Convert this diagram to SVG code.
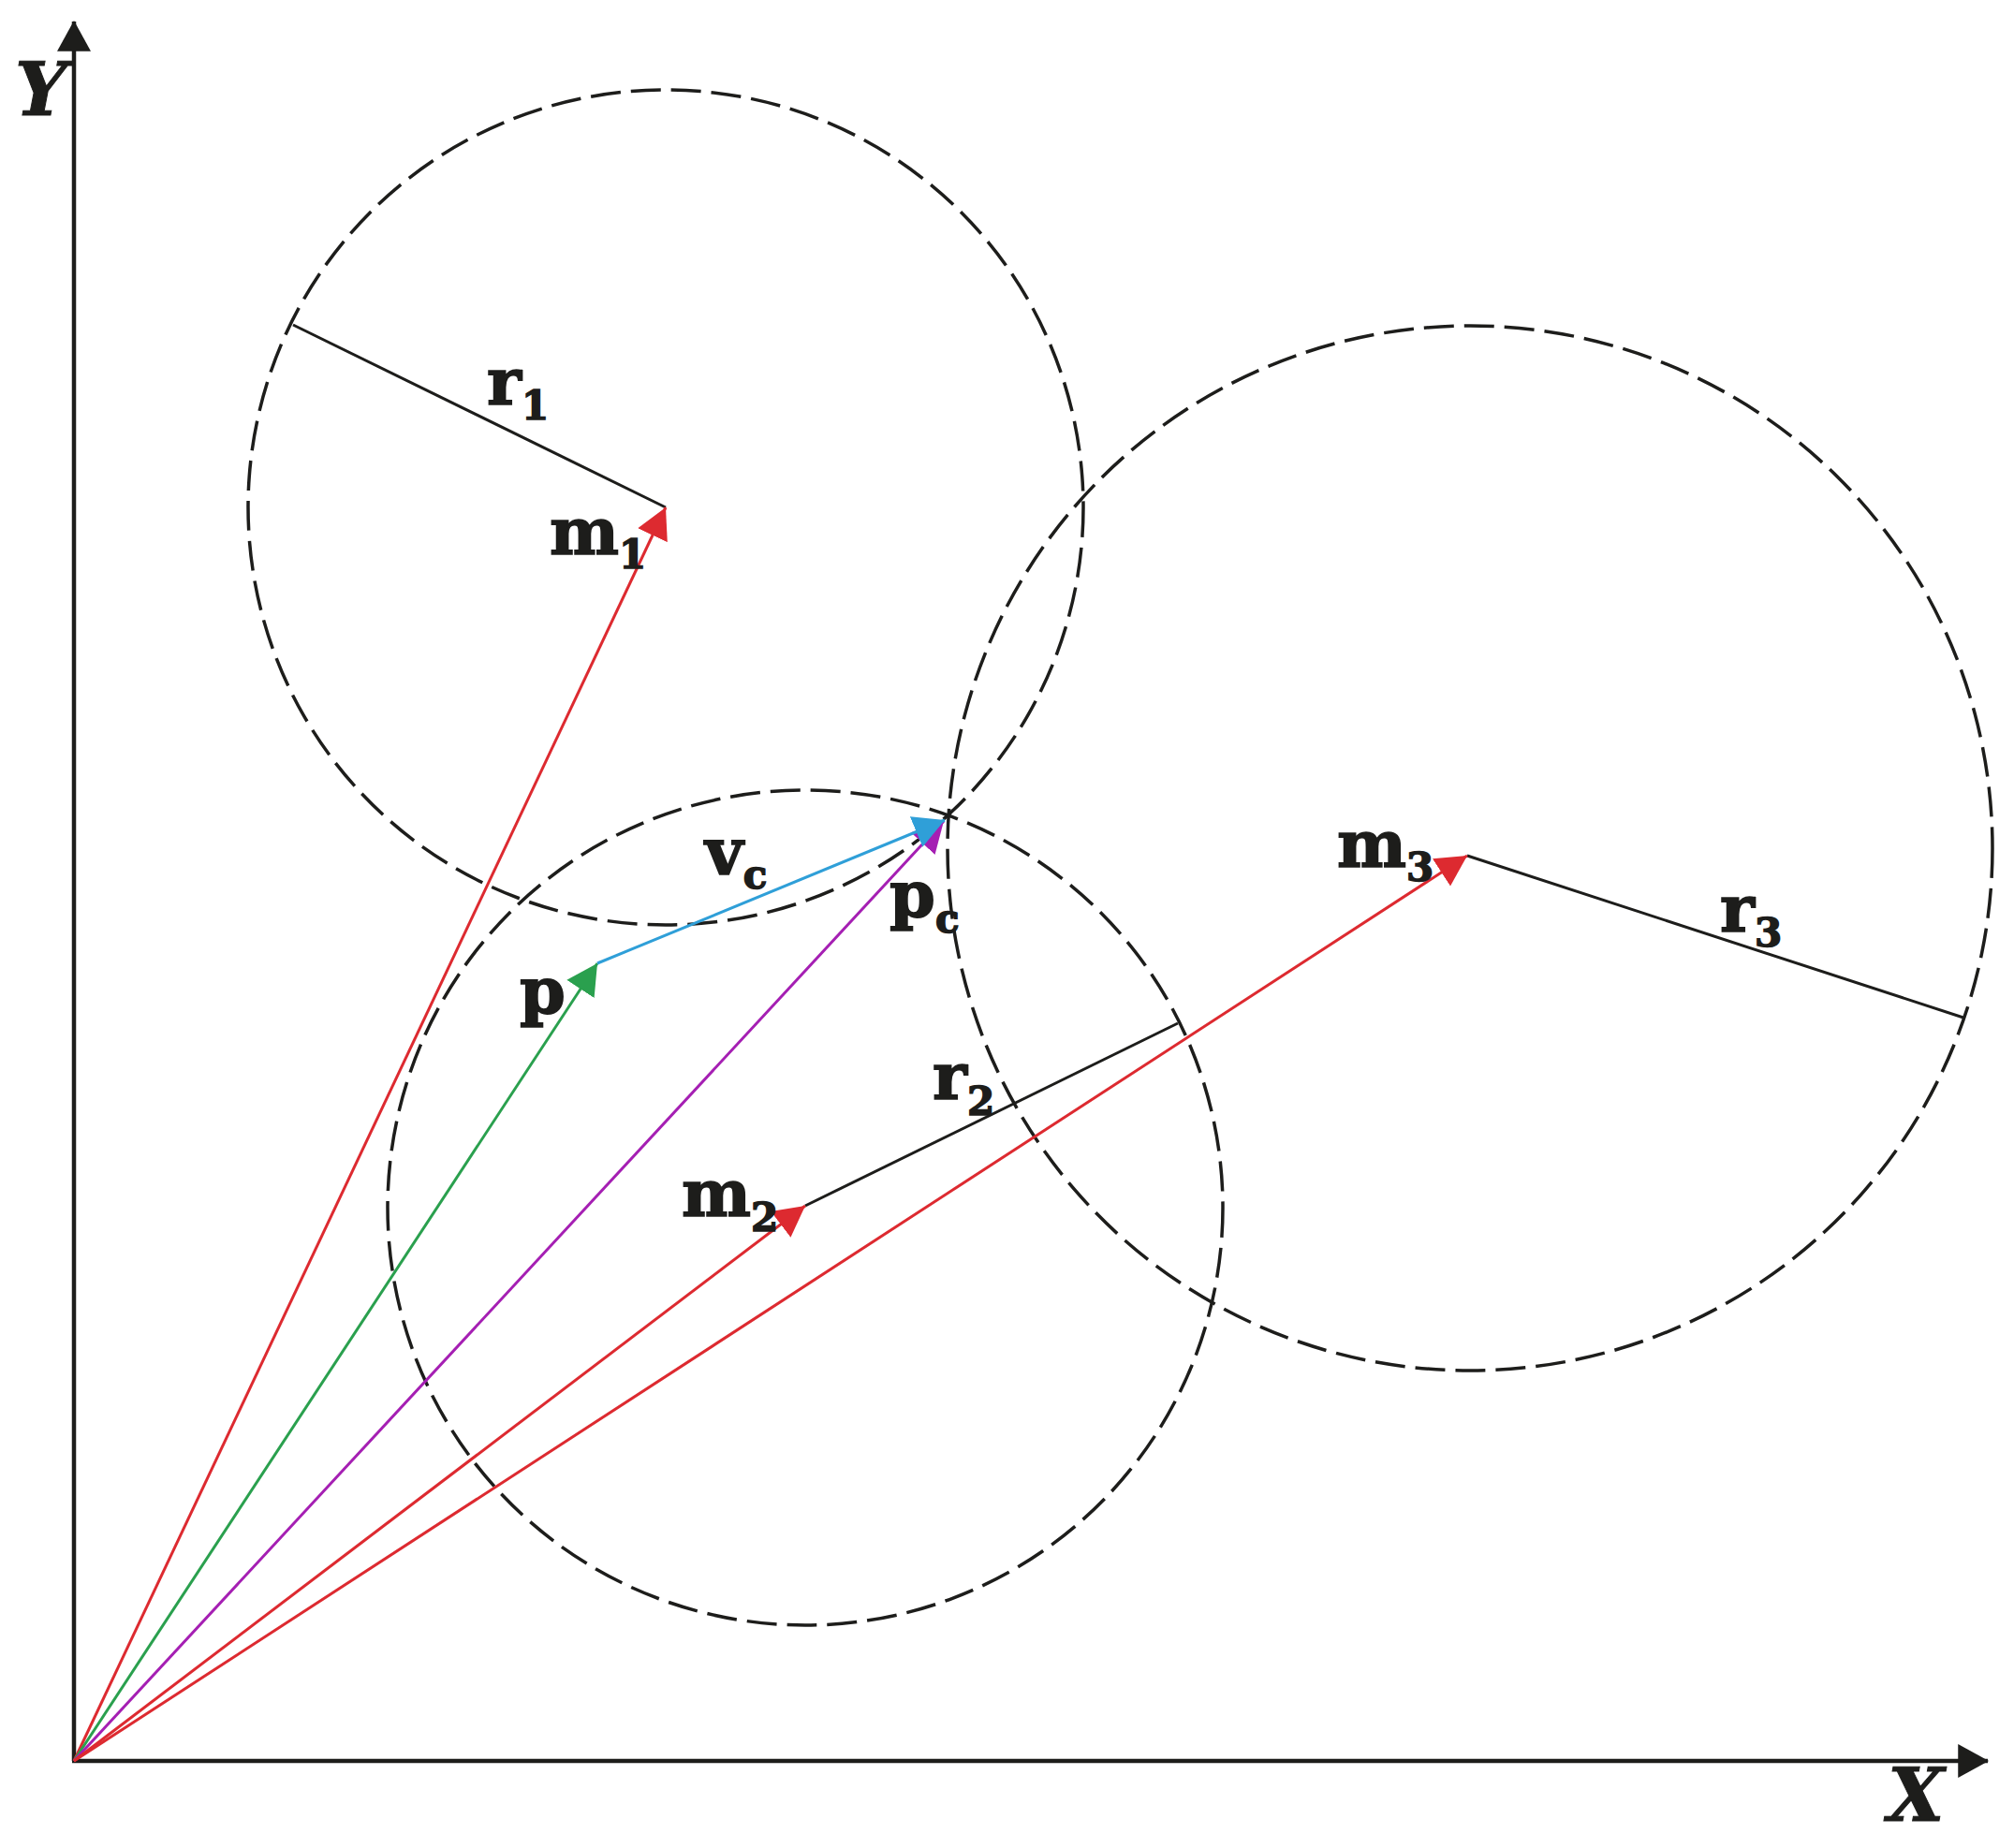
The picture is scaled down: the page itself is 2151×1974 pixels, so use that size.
<svg xmlns="http://www.w3.org/2000/svg" width="2151" height="1974" viewBox="0 0 2151 1974">
<style>
.axis{stroke:#1d1d1b;stroke-width:4.5;fill:none}
.circ{stroke:#1d1d1b;stroke-width:3.5;fill:none;stroke-dasharray:32 11}
.rad{stroke:#1d1d1b;stroke-width:3;fill:none}
.vec{stroke-width:3;fill:none}
.red{stroke:#dd2a30}
.green{stroke:#2aa04e}
.purple{stroke:#a51fb3}
.blue{stroke:#2f9fd8}
.lbl{font-family:"DejaVu Serif","Liberation Serif",serif;font-weight:bold;fill:#1d1d1b;stroke:#1d1d1b;stroke-width:1.6}
.ax{font-family:"DejaVu Serif","Liberation Serif",serif;font-weight:bold;font-style:italic;fill:#1d1d1b;font-size:78px;stroke:#1d1d1b;stroke-width:1}
</style>
<defs>
<marker id="ak" markerUnits="userSpaceOnUse" markerWidth="34" markerHeight="36" viewBox="0 -17 32 34" refX="30" refY="0" orient="auto"><path d="M0,-17 L31,0 L0,17 Z" fill="#1d1d1b"/></marker>
<marker id="ar" markerUnits="userSpaceOnUse" markerWidth="34" markerHeight="36" viewBox="0 -17 32 34" refX="31" refY="0" orient="auto"><path d="M0,-16.5 L31,0 L0,16.5 Z" fill="#dd2a30"/></marker>
<marker id="ag" markerUnits="userSpaceOnUse" markerWidth="34" markerHeight="36" viewBox="0 -17 32 34" refX="31" refY="0" orient="auto"><path d="M0,-16.5 L31,0 L0,16.5 Z" fill="#2aa04e"/></marker>
<marker id="ap" markerUnits="userSpaceOnUse" markerWidth="34" markerHeight="36" viewBox="0 -17 32 34" refX="31" refY="0" orient="auto"><path d="M0,-16.5 L31,0 L0,16.5 Z" fill="#a51fb3"/></marker>
<marker id="ab" markerUnits="userSpaceOnUse" markerWidth="34" markerHeight="36" viewBox="0 -17 32 34" refX="31" refY="0" orient="auto"><path d="M0,-16.5 L31,0 L0,16.5 Z" fill="#2f9fd8"/></marker>
</defs>

<g id="axes">
<line class="axis" x1="79" y1="1881" x2="79" y2="23" marker-end="url(#ak)"/>
<line class="axis" x1="77" y1="1881" x2="2123" y2="1881" marker-end="url(#ak)"/>
<text class="ax" x="16" y="123">Y</text>
<text class="ax" x="2016" y="1945">X</text>
</g>

<g id="circle1"><circle class="circ" cx="711" cy="542" r="446"/></g>
<g id="circle2"><circle class="circ" cx="860" cy="1290" r="446"/></g>
<g id="circle3"><circle class="circ" cx="1570" cy="906" r="558"/></g>

<g id="connectors">
<line class="rad" x1="711" y1="542" x2="313" y2="347"/>
<line class="rad" x1="860" y1="1288" x2="1258" y2="1093"/>
<line class="rad" x1="1567" y1="914" x2="2097" y2="1087"/>
<line class="vec red" x1="79" y1="1881" x2="711" y2="542" marker-end="url(#ar)"/>
<line class="vec green" x1="79" y1="1881" x2="638" y2="1029" marker-end="url(#ag)"/>
<line class="vec purple" x1="79" y1="1881" x2="1008" y2="877" marker-end="url(#ap)"/>
<line class="vec red" x1="79" y1="1881" x2="860" y2="1288" marker-end="url(#ar)"/>
<line class="vec red" x1="79" y1="1881" x2="1567" y2="914" marker-end="url(#ar)"/>
<line class="vec blue" x1="638" y1="1029" x2="1009" y2="876" marker-end="url(#ab)"/>
</g>

<g id="m1"><text class="lbl" x="587" y="592" font-size="70">m<tspan font-size="42" dy="15">1</tspan></text></g>
<g id="r1"><text class="lbl" x="520" y="432" font-size="70">r<tspan font-size="42" dy="16">1</tspan></text></g>
<g id="m2"><text class="lbl" x="728" y="1299" font-size="70">m<tspan font-size="42" dy="16">2</tspan></text></g>
<g id="r2"><text class="lbl" x="996" y="1174" font-size="70">r<tspan font-size="42" dy="17">2</tspan></text></g>
<g id="m3"><text class="lbl" x="1428" y="926" font-size="70">m<tspan font-size="42" dy="15">3</tspan></text></g>
<g id="r3"><text class="lbl" x="1837" y="995" font-size="70">r<tspan font-size="42" dy="16">3</tspan></text></g>
<g id="p"><text class="lbl" x="555" y="1083" font-size="70">p</text></g>
<g id="pc"><text class="lbl" x="950" y="980" font-size="70">p<tspan font-size="42" dy="16">c</tspan></text></g>
<g id="vc"><text class="lbl" x="753" y="934" font-size="70">v<tspan font-size="42" dy="15">c</tspan></text></g>
</svg>
